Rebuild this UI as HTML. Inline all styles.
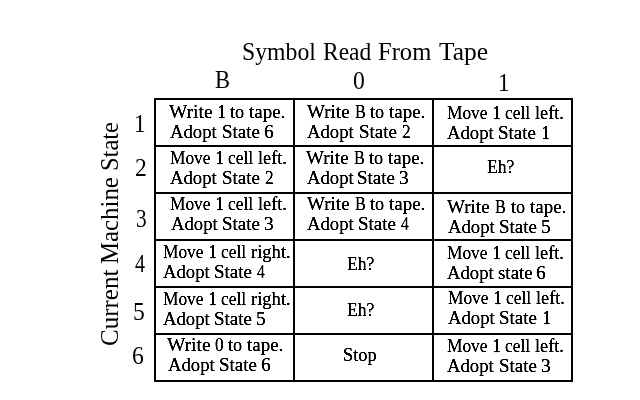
<!DOCTYPE html>
<html><head><meta charset="utf-8"><style>
html,body{margin:0;padding:0;background:#fff;}
body{width:640px;height:400px;position:relative;overflow:hidden;filter:grayscale(1);font-family:"Liberation Serif",serif;color:#000;}
.g{position:absolute;left:0;top:0;width:640px;height:400px;}
.l{position:absolute;background:#000;}
.t{position:absolute;white-space:nowrap;transform-origin:0 0;}
.c{font-size:19.5px;line-height:19.5px;-webkit-text-stroke:0.2px #000;}
.h{font-size:26px;line-height:26px;}
.o{-webkit-text-stroke:0.6px #000;}
</style></head><body>
<svg width="0" height="0" style="position:absolute"><filter id="fc" color-interpolation-filters="sRGB"><feComponentTransfer><feFuncR type="linear" slope="2" intercept="-0.6"/><feFuncG type="linear" slope="2" intercept="-0.6"/><feFuncB type="linear" slope="2" intercept="-0.6"/></feComponentTransfer></filter><filter id="fh" color-interpolation-filters="sRGB"><feComponentTransfer><feFuncR type="linear" slope="3" intercept="-0.6"/><feFuncG type="linear" slope="3" intercept="-0.6"/><feFuncB type="linear" slope="3" intercept="-0.6"/></feComponentTransfer></filter></svg>
<div class="g" style="filter:grayscale(1) url(#fc);background:#fff">
<div class="l" style="left:154px;top:98px;width:2px;height:284px"></div>
<div class="l" style="left:293px;top:98px;width:2px;height:284px"></div>
<div class="l" style="left:432px;top:98px;width:2px;height:284px"></div>
<div class="l" style="left:571px;top:98px;width:2px;height:284px"></div>
<div class="l" style="left:154px;top:98px;width:419px;height:2px"></div>
<div class="l" style="left:154px;top:145px;width:419px;height:2px"></div>
<div class="l" style="left:154px;top:192px;width:419px;height:2px"></div>
<div class="l" style="left:154px;top:239px;width:419px;height:2px"></div>
<div class="l" style="left:154px;top:286px;width:419px;height:2px"></div>
<div class="l" style="left:154px;top:333px;width:419px;height:2px"></div>
<div class="l" style="left:154px;top:380px;width:419px;height:2px"></div>
<div class="t c" style="left:169.0px;top:102px;transform:scaleX(1.0)">Write</div>
<div class="t c o" style="left:218.25px;top:102px;transform:scaleX(0.75)">1</div>
<div class="t c" style="left:230.0px;top:102px;transform:scaleX(0.9333)">to</div>
<div class="t c" style="left:249.0px;top:102px;transform:scaleX(0.9722)">tape.</div>
<div class="t c" style="left:170.0px;top:122px;transform:scaleX(0.9592)">Adopt</div>
<div class="t c" style="left:222.03px;top:122px;transform:scaleX(0.9737)">State</div>
<div class="t c" style="left:264.0px;top:122px;transform:scaleX(1.0)">6</div>
<div class="t c" style="left:307.0px;top:102px;transform:scaleX(0.9767)">Write</div>
<div class="t c" style="left:355.0px;top:102px;transform:scaleX(0.8333)">B</div>
<div class="t c" style="left:370.0px;top:102px;transform:scaleX(0.9333)">to</div>
<div class="t c" style="left:389.0px;top:102px;transform:scaleX(0.9722)">tape.</div>
<div class="t c" style="left:307.0px;top:122px;transform:scaleX(0.9592)">Adopt</div>
<div class="t c" style="left:359.03px;top:122px;transform:scaleX(0.9737)">State</div>
<div class="t c" style="left:402.0px;top:122px;transform:scaleX(0.8889)">2</div>
<div class="t c" style="left:447.0px;top:103px;transform:scaleX(0.8889)">Move</div>
<div class="t c o" style="left:493.25px;top:103px;transform:scaleX(0.75)">1</div>
<div class="t c" style="left:505.0px;top:103px;transform:scaleX(0.8929)">cell</div>
<div class="t c" style="left:535.0px;top:103px;transform:scaleX(0.9333)">left.</div>
<div class="t c" style="left:447.0px;top:123px;transform:scaleX(0.9592)">Adopt</div>
<div class="t c" style="left:498.03px;top:123px;transform:scaleX(0.9737)">State</div>
<div class="t c o" style="left:542.25px;top:123px;transform:scaleX(0.75)">1</div>
<div class="t c" style="left:170.0px;top:148px;transform:scaleX(0.8889)">Move</div>
<div class="t c o" style="left:216.25px;top:148px;transform:scaleX(0.75)">1</div>
<div class="t c" style="left:228.0px;top:148px;transform:scaleX(0.8929)">cell</div>
<div class="t c" style="left:258.0px;top:148px;transform:scaleX(0.9333)">left.</div>
<div class="t c" style="left:170.0px;top:168px;transform:scaleX(0.9592)">Adopt</div>
<div class="t c" style="left:222.03px;top:168px;transform:scaleX(0.9737)">State</div>
<div class="t c" style="left:265.0px;top:168px;transform:scaleX(0.8889)">2</div>
<div class="t c" style="left:306.0px;top:148px;transform:scaleX(0.9767)">Write</div>
<div class="t c" style="left:354.0px;top:148px;transform:scaleX(0.8333)">B</div>
<div class="t c" style="left:369.0px;top:148px;transform:scaleX(0.9333)">to</div>
<div class="t c" style="left:388.0px;top:148px;transform:scaleX(0.9722)">tape.</div>
<div class="t c" style="left:307.0px;top:168px;transform:scaleX(0.9592)">Adopt</div>
<div class="t c" style="left:357.03px;top:168px;transform:scaleX(0.9737)">State</div>
<div class="t c" style="left:399.0px;top:168px;transform:scaleX(1.0)">3</div>
<div class="t c" style="left:170.0px;top:194px;transform:scaleX(0.8889)">Move</div>
<div class="t c o" style="left:216.25px;top:194px;transform:scaleX(0.75)">1</div>
<div class="t c" style="left:228.0px;top:194px;transform:scaleX(0.8929)">cell</div>
<div class="t c" style="left:258.0px;top:194px;transform:scaleX(0.9333)">left.</div>
<div class="t c" style="left:171.0px;top:214px;transform:scaleX(0.9592)">Adopt</div>
<div class="t c" style="left:222.03px;top:214px;transform:scaleX(0.9737)">State</div>
<div class="t c" style="left:264.0px;top:214px;transform:scaleX(1.0)">3</div>
<div class="t c" style="left:307.0px;top:194px;transform:scaleX(0.9767)">Write</div>
<div class="t c" style="left:355.0px;top:194px;transform:scaleX(0.8333)">B</div>
<div class="t c" style="left:370.0px;top:194px;transform:scaleX(0.9333)">to</div>
<div class="t c" style="left:389.0px;top:194px;transform:scaleX(0.9722)">tape.</div>
<div class="t c" style="left:307.0px;top:214px;transform:scaleX(0.9592)">Adopt</div>
<div class="t c" style="left:358.03px;top:214px;transform:scaleX(0.9737)">State</div>
<div class="t c" style="left:401.0px;top:214px;transform:scaleX(0.8)">4</div>
<div class="t c" style="left:447.0px;top:197px;transform:scaleX(0.9767)">Write</div>
<div class="t c" style="left:495.0px;top:197px;transform:scaleX(0.8333)">B</div>
<div class="t c" style="left:511.0px;top:197px;transform:scaleX(0.9333)">to</div>
<div class="t c" style="left:530.0px;top:197px;transform:scaleX(0.9722)">tape.</div>
<div class="t c" style="left:448.0px;top:217px;transform:scaleX(0.9592)">Adopt</div>
<div class="t c" style="left:499.03px;top:217px;transform:scaleX(0.9737)">State</div>
<div class="t c" style="left:541.0px;top:217px;transform:scaleX(1.0)">5</div>
<div class="t c" style="left:163.0px;top:242px;transform:scaleX(0.8889)">Move</div>
<div class="t c o" style="left:209.25px;top:242px;transform:scaleX(0.75)">1</div>
<div class="t c" style="left:221.0px;top:242px;transform:scaleX(0.8929)">cell</div>
<div class="t c" style="left:251.0px;top:242px;transform:scaleX(0.9512)">right.</div>
<div class="t c" style="left:163.0px;top:262px;transform:scaleX(0.9592)">Adopt</div>
<div class="t c" style="left:214.03px;top:262px;transform:scaleX(0.9737)">State</div>
<div class="t c" style="left:257.0px;top:262px;transform:scaleX(0.8)">4</div>
<div class="t c" style="left:447.0px;top:243px;transform:scaleX(0.8889)">Move</div>
<div class="t c o" style="left:493.25px;top:243px;transform:scaleX(0.75)">1</div>
<div class="t c" style="left:505.0px;top:243px;transform:scaleX(0.8929)">cell</div>
<div class="t c" style="left:535.0px;top:243px;transform:scaleX(0.9333)">left.</div>
<div class="t c" style="left:447.0px;top:263px;transform:scaleX(0.9592)">Adopt</div>
<div class="t c" style="left:498.0px;top:263px;transform:scaleX(0.9714)">state</div>
<div class="t c" style="left:536.0px;top:263px;transform:scaleX(1.0)">6</div>
<div class="t c" style="left:163.0px;top:289px;transform:scaleX(0.8889)">Move</div>
<div class="t c o" style="left:209.25px;top:289px;transform:scaleX(0.75)">1</div>
<div class="t c" style="left:221.0px;top:289px;transform:scaleX(0.8929)">cell</div>
<div class="t c" style="left:251.0px;top:289px;transform:scaleX(0.9512)">right.</div>
<div class="t c" style="left:163.0px;top:309px;transform:scaleX(0.9592)">Adopt</div>
<div class="t c" style="left:214.03px;top:309px;transform:scaleX(0.9737)">State</div>
<div class="t c" style="left:256.0px;top:309px;transform:scaleX(1.0)">5</div>
<div class="t c" style="left:448.0px;top:288px;transform:scaleX(0.8889)">Move</div>
<div class="t c o" style="left:494.25px;top:288px;transform:scaleX(0.75)">1</div>
<div class="t c" style="left:506.0px;top:288px;transform:scaleX(0.8929)">cell</div>
<div class="t c" style="left:536.0px;top:288px;transform:scaleX(0.9333)">left.</div>
<div class="t c" style="left:448.0px;top:308px;transform:scaleX(0.9592)">Adopt</div>
<div class="t c" style="left:499.03px;top:308px;transform:scaleX(0.9737)">State</div>
<div class="t c o" style="left:543.25px;top:308px;transform:scaleX(0.75)">1</div>
<div class="t c" style="left:167.0px;top:335px;transform:scaleX(1.0)">Write</div>
<div class="t c" style="left:215.0px;top:335px;transform:scaleX(0.8889)">0</div>
<div class="t c" style="left:228.0px;top:335px;transform:scaleX(0.9333)">to</div>
<div class="t c" style="left:247.0px;top:335px;transform:scaleX(0.9722)">tape.</div>
<div class="t c" style="left:168.0px;top:355px;transform:scaleX(0.9592)">Adopt</div>
<div class="t c" style="left:219.03px;top:355px;transform:scaleX(0.9737)">State</div>
<div class="t c" style="left:261.0px;top:355px;transform:scaleX(1.0)">6</div>
<div class="t c" style="left:447.0px;top:336px;transform:scaleX(0.8889)">Move</div>
<div class="t c o" style="left:493.25px;top:336px;transform:scaleX(0.75)">1</div>
<div class="t c" style="left:505.0px;top:336px;transform:scaleX(0.8929)">cell</div>
<div class="t c" style="left:535.0px;top:336px;transform:scaleX(0.9333)">left.</div>
<div class="t c" style="left:447.0px;top:356px;transform:scaleX(0.9592)">Adopt</div>
<div class="t c" style="left:499.03px;top:356px;transform:scaleX(0.9737)">State</div>
<div class="t c" style="left:541.0px;top:356px;transform:scaleX(1.0)">3</div>
<div class="t c" style="left:487.0px;top:157px;transform:scaleX(0.9)">Eh?</div>
<div class="t c" style="left:347.0px;top:254px;transform:scaleX(0.9)">Eh?</div>
<div class="t c" style="left:347.0px;top:300px;transform:scaleX(0.9)">Eh?</div>
<div class="t c" style="left:343.06px;top:345px;transform:scaleX(0.9412)">Stop</div>
</div>
<div class="g" style="filter:grayscale(1) url(#fh)">
<div class="t h" style="left:242.09px;top:39px;transform:scaleX(0.9127)">Symbol</div>
<div class="t h" style="left:323.08px;top:39px;transform:scaleX(0.9042)">Read</div>
<div class="t h" style="left:378.05px;top:39px;transform:scaleX(0.9455)">From</div>
<div class="t h" style="left:439.0px;top:39px;transform:scaleX(0.9796)">Tape</div>
<div class="t h" style="left:215.06px;top:67px;transform:scaleX(0.8711)">B</div>
<div class="t h" style="left:353.09px;top:68px;transform:scaleX(0.9091)">0</div>
<div class="t h" style="left:498.14px;top:70px;transform:scaleX(0.8916)">1</div>
<div class="t h" style="left:134.14px;top:111px;transform:scaleX(0.8916)">1</div>
<div class="t h" style="left:135.09px;top:155px;transform:scaleX(0.9091)">2</div>
<div class="t h" style="left:136.18px;top:206px;transform:scaleX(0.8182)">3</div>
<div class="t h" style="left:135.0px;top:251px;transform:scaleX(0.7692)">4</div>
<div class="t h" style="left:133.09px;top:299px;transform:scaleX(0.9091)">5</div>
<div class="t h" style="left:132.09px;top:343px;transform:scaleX(0.9091)">6</div>
<div class="t h" style="left:97px;top:345.96px;transform:rotate(-90deg) scaleX(0.9615)">Current</div>
<div class="t h" style="left:97px;top:263.96px;transform:rotate(-90deg) scaleX(0.9551)">Machine</div>
<div class="t h" style="left:97px;top:170.94px;transform:rotate(-90deg) scaleX(0.94)">State</div>
</div>
</body></html>
